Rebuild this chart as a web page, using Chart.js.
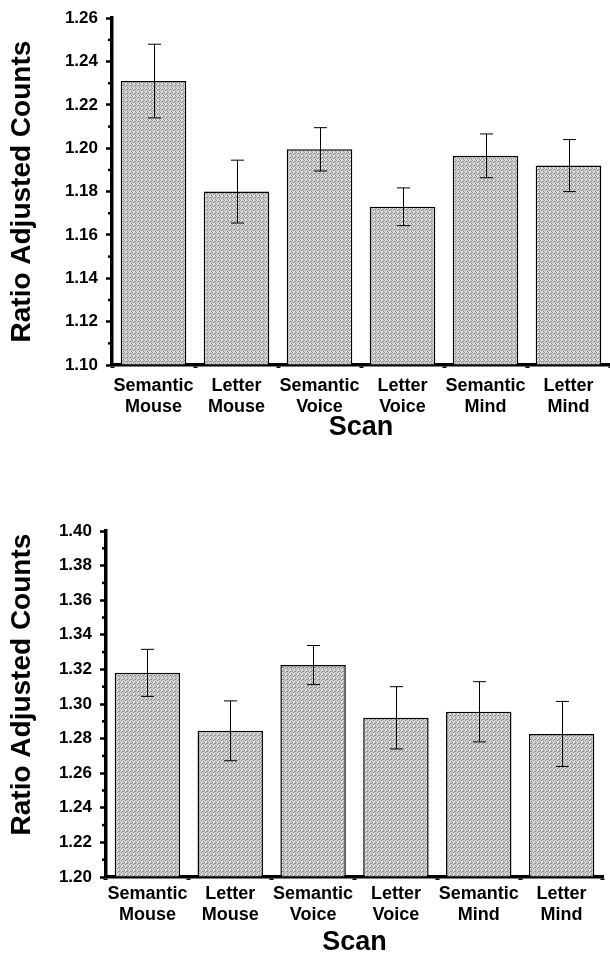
<!DOCTYPE html>
<html>
<head>
<meta charset="utf-8">
<script src="https://cdn.jsdelivr.net/npm/chart.js@4.4.1/dist/chart.umd.min.js"></script>
<style>
  html, body { margin: 0; padding: 0; background: #fff; }
  canvas { display: block; position: absolute; left: 0; }
  #topChart { top: 0; }
  #bottomChart { top: 450px; }
</style>
</head>
<body>
<canvas id="topChart" width="610" height="450"></canvas>
<canvas id="bottomChart" width="610" height="507"></canvas>
<script>
// categories shared by both panels
const scans = [
  ['Semantic', 'Mouse'], ['Letter', 'Mouse'],
  ['Semantic', 'Voice'], ['Letter', 'Voice'],
  ['Semantic', 'Mind'], ['Letter', 'Mind']
];

// upper panel
const topMeans = [1.231, 1.180, 1.1995, 1.173, 1.1965, 1.192];
const topErrors = [0.017, 0.0145, 0.010, 0.0087, 0.0101, 0.012];
const topRange = [1.10, 1.26];

// lower panel
const bottomMeans = [1.318, 1.2845, 1.3225, 1.292, 1.2955, 1.2827];
const bottomErrors = [0.0136, 0.0173, 0.0113, 0.018, 0.0174, 0.0188];
const bottomRange = [1.20, 1.40];

const tickStep = 0.02;
const FONT = '"Liberation Sans", Arial, sans-serif';
const yTitle = 'Ratio Adjusted Counts';

// stippled grey fill like the printed figure
function makeStipple() {
  const c = document.createElement('canvas');
  c.width = 4; c.height = 4;
  const g = c.getContext('2d');
  g.fillStyle = '#d0d0d0';
  g.fillRect(0, 0, 4, 4);
  g.fillStyle = '#8c8c8c';
  [[0, 0], [2, 1], [1, 2], [3, 3], [3, 1]].forEach(([x, y]) => g.fillRect(x, y, 1, 1));
  g.fillStyle = '#eeeeee';
  [[1, 0], [2, 3]].forEach(([x, y]) => g.fillRect(x, y, 1, 1));
  return g.createPattern(c, 'repeat');
}

// error bars + small minor ticks on the y axis
const errorBarPlugin = {
  id: 'errorBars',
  afterDatasetsDraw(chart) {
    const { ctx } = chart;
    const meta = chart.getDatasetMeta(0);
    const yScale = chart.scales.y;
    const errs = chart.options.plugins.errorBars.errors;
    const means = chart.data.datasets[0].data;
    ctx.save();
    ctx.strokeStyle = '#000';
    ctx.lineWidth = 1;
    meta.data.forEach((bar, i) => {
      const x = Math.round(bar.x) + 0.5;
      const yHi = yScale.getPixelForValue(means[i] + errs[i]);
      const yLo = yScale.getPixelForValue(means[i] - errs[i]);
      ctx.beginPath();
      ctx.moveTo(x, yHi); ctx.lineTo(x, yLo);
      ctx.moveTo(x - 6.5, yHi); ctx.lineTo(x + 6.5, yHi);
      ctx.moveTo(x - 6.5, yLo); ctx.lineTo(x + 6.5, yLo);
      ctx.stroke();
    });
    // minor ticks halfway between labelled ticks
    ctx.lineWidth = 2.5;
    const left = chart.chartArea.left;
    for (let v = yScale.min + tickStep / 2; v < yScale.max; v += tickStep) {
      const y = yScale.getPixelForValue(v);
      ctx.beginPath();
      ctx.moveTo(left - 4, y); ctx.lineTo(left, y);
      ctx.stroke();
    }
    ctx.restore();
  }
};

function makeChart(id, means, errors, range, opts) {
  const ctx = document.getElementById(id).getContext('2d');
  return new Chart(ctx, {
    type: 'bar',
    data: {
      labels: scans,
      datasets: [{
        data: means,
        base: range[0],
        backgroundColor: makeStipple(),
        borderColor: '#000',
        borderWidth: 1.5,
        barPercentage: 0.79,
        categoryPercentage: 1.0
      }]
    },
    options: {
      responsive: false,
      animation: false,
      events: [],
      layout: { padding: { left: 0, right: opts.padRight, top: opts.padTop, bottom: 0 } },
      plugins: {
        legend: { display: false },
        tooltip: { enabled: false },
        errorBars: { errors: errors }
      },
      scales: {
        x: {
          offset: true,
          grid: {
            offset: true,
            drawOnChartArea: false,
            drawTicks: true,
            tickLength: 3,
            tickWidth: 4,
            tickColor: '#000'
          },
          border: { display: true, color: '#000', width: 3.5 },
          ticks: {
            color: '#000',
            autoSkip: false,
            maxRotation: 0,
            padding: opts.xTickPad,
            font: { family: FONT, size: 18, weight: 'bold', lineHeight: 1.2 }
          },
          title: {
            display: true,
            text: 'Scan',
            color: '#000',
            font: { family: FONT, size: 27, weight: 'bold', lineHeight: 1 },
            padding: { top: 0, bottom: opts.scanPad }
          },
          afterFit(scale) { scale.height = opts.xHeight; }
        },
        y: {
          min: range[0],
          max: range[1],
          grid: {
            drawOnChartArea: false,
            drawTicks: true,
            tickLength: 6,
            tickWidth: 2.5,
            tickColor: '#000'
          },
          border: { display: true, color: '#000', width: 3.5 },
          ticks: {
            stepSize: tickStep,
            color: '#000',
            padding: 8,
            font: { family: FONT, size: 17, weight: 'bold' },
            callback: (v) => Number(v).toFixed(2)
          },
          title: {
            display: true,
            text: opts.yTitleText,
            color: '#000',
            font: { family: FONT, size: 28, weight: 'bold', lineHeight: 1 },
            padding: { top: 8, bottom: 0 }
          },
          afterFit(scale) { scale.width = opts.yWidth; }
        }
      }
    },
    plugins: [errorBarPlugin]
  });
}

makeChart('topChart', topMeans, topErrors, topRange,
  { padTop: 17, padRight: 0, yWidth: 112, xHeight: 85, xTickPad: 7, scanPad: 8.5,
    yTitleText: yTitle });
// lower panel's axis title sits a little above the plot centre
makeChart('bottomChart', bottomMeans, bottomErrors, bottomRange,
  { padTop: 81, padRight: 7, yWidth: 106, xHeight: 80, xTickPad: 3, scanPad: 0.5,
    yTitleText: '\u00a0\u00a0\u00a0\u00a0\u00a0' + yTitle });
</script>
</body>
</html>
